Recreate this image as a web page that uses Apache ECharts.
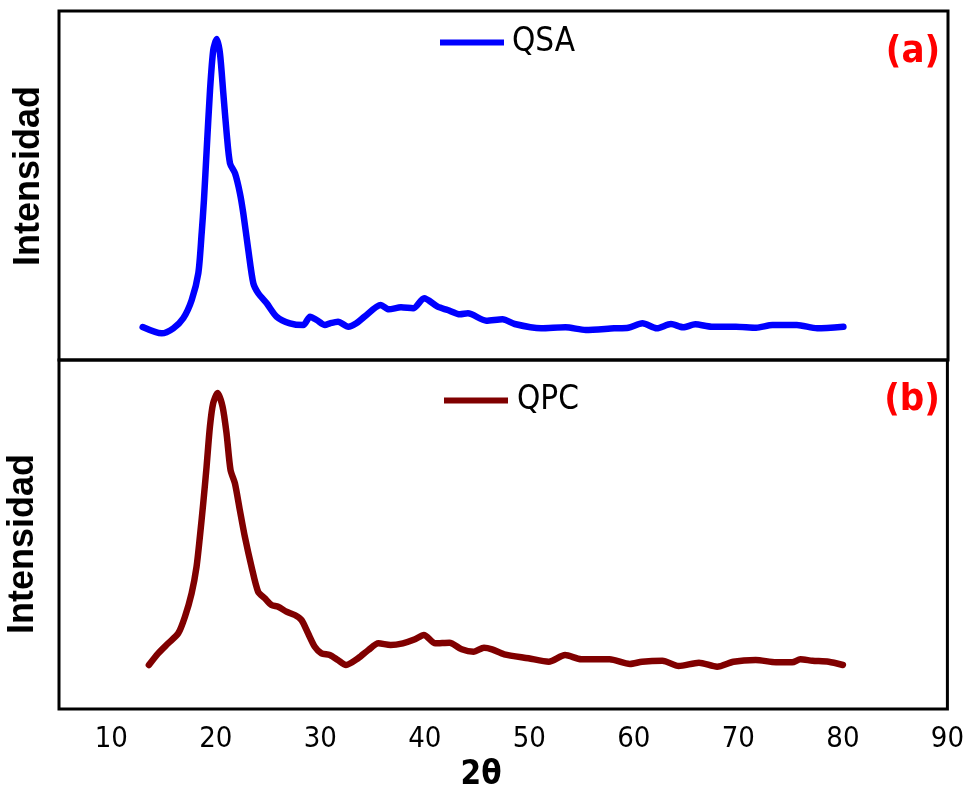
<!DOCTYPE html>
<html>
<head>
<meta charset="utf-8">
<script src="https://cdn.jsdelivr.net/npm/echarts@6/dist/echarts.min.js"></script>
<style>
html,body{margin:0;padding:0;background:#fff;}
#chart{width:967px;height:791px;}
</style>
</head>
<body>
<div id="chart"></div>
<script>
// 2θ values and intensities (arbitrary units)
var qsaX = [13.0,14.82,15.93,16.88,17.69,18.32,18.64,18.86,19.12,19.44,19.75,20.08,20.39,20.71,21.03,21.35,21.83,22.3,22.62,23.1,23.58,24.05,24.86,25.81,27.08,28.36,29.0,29.64,30.43,30.91,31.68,32.66,33.43,34.21,35.76,36.54,37.7,38.86,39.91,41.2,42.16,43.33,44.1,45.85,47.41,48.57,51.09,53.42,55.36,58.08,59.44,60.79,62.15,63.51,64.67,65.84,67.4,69.72,71.66,73.22,75.55,77.49,80.0];
var qsaY = [33,26.7,31.7,41.7,60,86.7,126.7,160,210,270,310,321,306.7,266.7,226.7,196.7,186.7,166.7,146.7,110,76.7,66.7,56.7,43.3,36.7,35,43.3,40,35,36.7,38.3,33.3,36.7,43.3,55,50.7,52.7,51.7,61.7,53.3,50,45.7,46.7,39.3,40.7,36,31.7,32.7,30,31.7,32.3,36.7,31.7,36,32.7,35.7,33.3,33.3,32.3,35,35,31.7,33.3];

var qpcX = [13.6,14.49,15.45,16.41,17.05,17.69,18.16,18.48,18.8,19.12,19.44,19.75,20.17,20.65,21.03,21.41,21.83,22.3,22.78,23.42,24.05,24.69,25.33,25.97,26.76,27.56,28.2,28.83,29.47,30.11,30.91,31.68,32.46,33.62,34.6,35.56,36.73,37.9,39.06,39.91,41.0,42.36,43.53,44.68,45.66,46.43,47.6,49.92,51.86,53.42,54.97,57.68,59.63,60.79,62.73,64.29,66.23,67.97,69.53,71.66,73.6,75.15,75.93,77.09,78.64,80.0];
var qpcY = [44,55.7,65.7,75.7,92.3,115.7,142.3,172.3,205.7,242.3,282.3,305.7,316,302.3,275.7,239,225.7,199,172.3,142.3,117.3,110.7,104,102.3,97.3,94,89,75.7,62.3,55.7,54,49,44,50.7,59,65.7,64,65.7,69.7,74,65.7,66.3,59.7,57.3,61.3,59.7,54.7,50.7,47.3,54,49.7,49.7,45,47.3,48.3,43,46.3,42.3,47.3,49,46.7,46.7,49.7,48.3,47.3,44];

var xTickLabels = [10,20,30,40,50,60,70,80,90];
var seriesNames = ['QSA','QPC'];
var seriesColors = ['#0000FF','#800000'];

function pairs(xs, ys){ return xs.map(function(x,i){ return [x, ys[i]]; }); }

var narrow = "'Liberation Sans Narrow','Arial Narrow','DejaVu Sans Condensed',sans-serif";
var chart = echarts.init(document.getElementById('chart'), null, {renderer:'canvas'});

var xAxisBase = {
  type:'value', min:5, max:90, interval:5,
  axisLine:{show:false}, axisTick:{show:false}, splitLine:{show:false}
};
var yAxisBase = {
  type:'value', min:0, max:349,
  axisLine:{show:false}, axisTick:{show:false}, splitLine:{show:false}, axisLabel:{show:false}
};

chart.setOption({
  animation:false,
  backgroundColor:'#fff',
  grid:[
    {left:59, top:11, width:889, height:349, show:true, borderColor:'#000', borderWidth:3, backgroundColor:'transparent'},
    {left:59, top:360, width:889, height:349, show:true, borderColor:'#000', borderWidth:3, backgroundColor:'transparent'}
  ],
  xAxis:[
    Object.assign({}, xAxisBase, {gridIndex:0, axisLabel:{show:false}}),
    Object.assign({}, xAxisBase, {gridIndex:1, axisLabel:{
      show:true, margin:16, color:'#000', fontSize:29, fontFamily:narrow,
      formatter:function(v){ return xTickLabels.indexOf(v) >= 0 ? String(v) : ''; }
    }})
  ],
  yAxis:[
    Object.assign({}, yAxisBase, {gridIndex:0}),
    Object.assign({}, yAxisBase, {gridIndex:1})
  ],
  legend:[
    {data:[seriesNames[0]], left:440, top:26, padding:0, icon:'rect', itemWidth:64, itemHeight:6, selectedMode:false,
     textStyle:{fontSize:33, lineHeight:33, color:'#000', fontFamily:narrow, padding:[0,0,0,3]}},
    {data:[seriesNames[1]], left:444, top:384, padding:0, icon:'rect', itemWidth:64, itemHeight:6, selectedMode:false,
     textStyle:{fontSize:33, lineHeight:33, color:'#000', fontFamily:narrow, padding:[0,0,0,4]}}
  ],
  series:[
    {name:seriesNames[0], type:'line', xAxisIndex:0, yAxisIndex:0, data:pairs(qsaX,qsaY), showSymbol:false, symbol:'none', smooth:0.25,
     color:seriesColors[0], lineStyle:{width:6.5, color:seriesColors[0], join:'round', cap:'round'}},
    {name:seriesNames[1], type:'line', xAxisIndex:1, yAxisIndex:1, data:pairs(qpcX,qpcY), showSymbol:false, symbol:'none', smooth:0.25,
     color:seriesColors[1], lineStyle:{width:6.5, color:seriesColors[1], join:'round', cap:'round'}}
  ],
  graphic:[
    {type:'text', x:29, y:176, rotation:Math.PI/2, style:{text:'Intensidad', font:"bold 36px 'Liberation Sans',Arial,sans-serif", fill:'#000', align:'center', verticalAlign:'middle'}},
    {type:'text', x:23.5, y:544, rotation:Math.PI/2, style:{text:'Intensidad', font:"bold 36px 'Liberation Sans',Arial,sans-serif", fill:'#000', align:'center', verticalAlign:'middle'}},
    {type:'text', x:913, y:52, style:{text:'(a)', font:"bold 38px " + narrow, fill:'#FF0000', align:'center', verticalAlign:'middle'}},
    {type:'text', x:912, y:400, style:{text:'(b)', font:"bold 38px " + narrow, fill:'#FF0000', align:'center', verticalAlign:'middle'}},
    {type:'text', x:481, y:775, style:{text:'2θ', font:"bold 33px " + narrow, fill:'#000', align:'center', verticalAlign:'middle'}}
  ]
});
</script>
</body>
</html>
